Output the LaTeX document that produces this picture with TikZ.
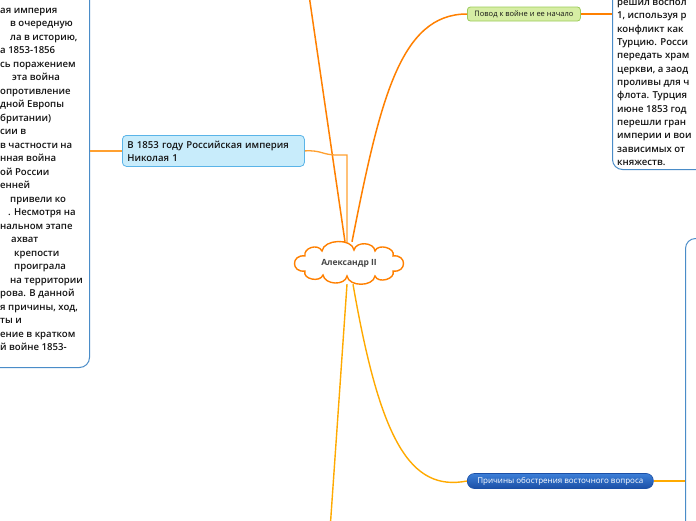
\documentclass[tikz,border=0pt]{standalone}
\usepackage{fontspec}
\setmainfont{Open Sans}
\newfontfamily\semi{Open Sans Semibold}
\usetikzlibrary{shapes.symbols}
\definecolor{orA}{HTML}{FF8000}
\definecolor{orB}{HTML}{FFAA00}
\definecolor{orC}{HTML}{FFA030}
\definecolor{bbord}{HTML}{4A8CC8}
\definecolor{lbfill}{HTML}{C8ECFB}
\definecolor{lbdraw}{HTML}{5AB4E8}
\definecolor{gfill}{HTML}{D6EDA4}
\definecolor{gdraw}{HTML}{9CCC5A}
\definecolor{pfillA}{HTML}{3C7FD8}
\definecolor{pfillB}{HTML}{1B4FA6}
\definecolor{txt}{HTML}{141414}
\tikzset{
  bigbox/.style={draw=bbord, line width=1pt, fill=white, rounded corners=10pt, inner sep=0pt},
  bodytext/.style={font=\semi\fontsize{9.6}{13.5}\selectfont, text=txt, inner sep=0pt, anchor=base west},
  conA/.style={draw=orA, line width=1.5pt},
  conB/.style={draw=orB, line width=1.4pt},
  conC/.style={draw=orC, line width=1.3pt},
  lbox/.style={draw=lbdraw, line width=0.8pt, fill=lbfill, rounded corners=4pt, align=left,
    font=\semi\fontsize{9.6}{13}\selectfont, text=txt, inner xsep=5pt, inner ysep=2pt},
  gbox/.style={draw=gdraw, line width=0.8pt, fill=gfill, rounded corners=3pt,
    font=\fontsize{7.5}{9}\selectfont, text=txt, inner sep=0pt},
  pbox/.style={draw=pfillB, line width=0.6pt, top color=pfillA, bottom color=pfillB, rounded corners=7pt,
    font=\fontsize{8}{10}\selectfont, text=white, inner sep=0pt},
  cloudbox/.style={cloud, cloud puffs=10, cloud ignores aspect, draw=none,
    minimum width=108pt, minimum height=42pt, inner sep=0pt,
    font=\bfseries\fontsize{8.5}{10}\selectfont, text=black!72},
  cloudline/.style={draw=orA, line width=1.4pt, fill=white}
}
\begin{document}
\begin{tikzpicture}[x=1pt,y=-1pt]
\useasboundingbox (0,0) rectangle (696,520);
\fill[white] (0,0) rectangle (696,520);
% big boxes
\node[bigbox, minimum width=200pt, minimum height=400pt, anchor=south east] (L) at (90,368) {};
\node[bigbox, minimum width=200pt, minimum height=200pt, anchor=south west] (RT) at (612,170) {};
\node[bigbox, minimum width=100pt, minimum height=330pt, anchor=north west] (RB) at (685,238) {};
% left box text
\foreach \i/\xx/\t in {1/0/{ая империя}, 2/10/{в очередную}, 3/10/{ла в историю,}, 4/0/{а 1853-1856},
  5/0/{сь поражением}, 6/12/{эта война}, 7/0/{опротивление}, 8/0/{дной Европы}, 9/0/{британии)},
  10/0/{сии в}, 11/0/{в частности на}, 12/0/{нная война}, 13/0/{ой России}, 14/0/{енней},
  15/10/{привели ко}, 16/8/{. Несмотря на}, 17/0/{нальном этапе}, 18/11/{ахват}, 19/14/{крепости},
  20/14/{проиграла}, 21/10/{на территории}, 22/0/{рова. В данной}, 23/0/{я причины, ход,},
  24/0/{ты и}, 25/0/{ение в кратком}, 26/0/{й войне 1853-}}
  \node[bodytext] (l\i) at (\xx, {13.5+13.48*(\i-1)}) {\t};
% right top box text
\foreach \i/\t in {1/{решил воспол}, 2/{1, используя р}, 3/{конфликт как}, 4/{Турцию. Росси},
  5/{передать храм}, 6/{церкви, а заод}, 7/{проливы для ч}, 8/{флота. Турция}, 9/{июне 1853 год},
  10/{перешли гран}, 11/{империи и вои}, 12/{зависимых от}, 13/{княжеств.}}
  \node[bodytext] (r\i) at (617, {5.5+13.33*(\i-1)}) {\t};
% cloud outline
\begin{scope}[shift={(349,263)}]
\draw[cloudline] (-44,-7) .. controls (-46,-15) and (-31,-20) .. (-27,-12)
  .. controls (-25,-24) and (3,-25) .. (5,-13)
  .. controls (7,-22) and (25,-21) .. (26,-12)
  .. controls (29,-20) and (47,-15) .. (44,-7)
  .. controls (58,-9) and (58,10) .. (44,8)
  .. controls (47,16) and (29,21) .. (26,13)
  .. controls (24,24) and (0,24) .. (-2,13)
  .. controls (-4,23) and (-24,22) .. (-26,12)
  .. controls (-29,20) and (-47,16) .. (-44,8)
  .. controls (-58,10) and (-58,-9) .. cycle;
\end{scope}
% nodes
\node[cloudbox] (c) at (349,263) {Александр II};
\node[lbox, text width=172pt, minimum height=31pt, anchor=north west] (n1853) at (122,135)
  {В 1853 году Российская империя\\Николая 1};
\node[gbox, minimum width=113pt, minimum height=14pt, anchor=west] (povod) at (467,14)
  {Повод к войне и ее начало};
\node[pbox, minimum width=186pt, minimum height=15pt, anchor=west] (prich) at (467,481)
  {Причины обострения восточного вопроса};
% free ends
\coordinate (top1) at (309,-5);
\coordinate (bot1) at (330,530);
% connectors
\draw[conA] ([xshift=-4pt]c.north) -- (top1);
\draw[conA] ([xshift=3pt]c.north) .. controls (380,100) and (400,14) .. (povod.west);
\draw[conA] (povod.east) -- (povod.east -| RT.west);
\draw[conC] (n1853.east) .. controls (322,150) and (322,155) .. (337,155) -- (347,155) -- ([xshift=-2pt]c.north);
\draw[conC] (n1853.west -| L.east) -- (n1853.west);
\draw[conB] ([xshift=-2pt]c.south) -- (bot1);
\draw[conB] ([xshift=4pt]c.south) .. controls (380,440) and (410,492) .. (prich.west);
\draw[conB] (prich.east) -- (prich.east -| RB.west);
\end{tikzpicture}
\end{document}
